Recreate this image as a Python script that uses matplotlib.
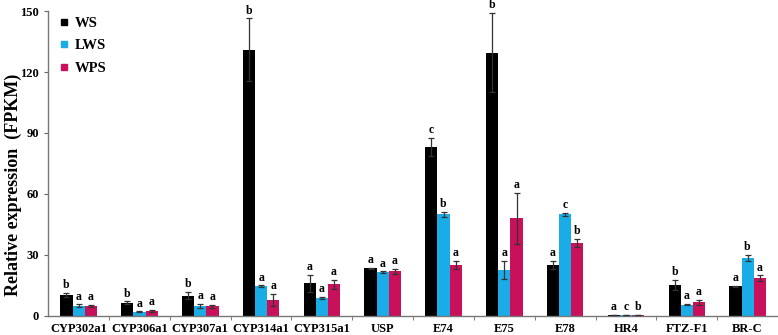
import numpy as np
import matplotlib
matplotlib.use("Agg")
import matplotlib.pyplot as plt
from matplotlib.lines import Line2D

plt.rcParams['font.family'] = ['Liberation Serif', 'DejaVu Serif']
plt.rcParams['font.weight'] = 'bold'

# Genes and values
genes = ["CYP302a1", "CYP306a1", "CYP307a1", "CYP314a1", "CYP315a1", "USP",
         "E74", "E75", "E78", "HR4", "FTZ-F1", "BR-C"]
ws = [10.5, 6.5, 10.0, 131.0, 16.0, 23.5, 83.0, 129.5, 25.0, 0.3, 15.3, 14.5]
ws_err = [1.0, 0.7, 1.8, 15.5, 4.2, 0.3, 4.5, 19.5, 2.0, 0.1, 2.5, 0.4]
lws = [5.0, 2.0, 4.8, 14.5, 9.0, 21.5, 50.0, 22.5, 50.0, 0.5, 5.5, 28.5]
lws_err = [0.7, 0.3, 1.0, 0.5, 0.5, 0.5, 1.3, 4.5, 0.7, 0.1, 0.3, 1.5]
wps = [5.0, 2.5, 4.8, 8.0, 15.5, 22.0, 25.0, 48.0, 36.0, 0.4, 6.8, 18.5]
wps_err = [0.5, 0.4, 0.8, 3.0, 2.3, 1.2, 2.0, 12.5, 2.0, 0.1, 1.2, 1.5]
ws_let = ["b", "b", "b", "b", "a", "a", "c", "b", "a", "a", "b", "a"]
lws_let = ["a", "a", "a", "a", "a", "a", "b", "a", "c", "c", "a", "b"]
wps_let = ["a", "a", "a", "a", "a", "a", "a", "a", "b", "b", "a", "a"]

series = [
    ("WS", ws, ws_err, ws_let, "black"),
    ("LWS", lws, lws_err, lws_let, "#19ACE6"),
    ("WPS", wps, wps_err, wps_let, "#C9105A"),
]

fig = plt.figure(figsize=(7.78, 3.35), dpi=100)
ax = fig.add_axes([0.062, 0.057, 0.938, 0.91])

x = np.arange(len(genes))
width = 0.2
for i, (name, vals, errs, lets, col) in enumerate(series):
    pos = x + (i - 1) * width
    ax.bar(pos, vals, width, color=col, zorder=2)
    ax.errorbar(pos, vals, yerr=errs, fmt='none', ecolor='#333333',
                elinewidth=0.9, capsize=2.5, capthick=0.9, zorder=3)
    for p, v, e, l in zip(pos, vals, errs, lets):
        ax.text(p, v + e + 0.8, l, ha='center', va='bottom',
                fontsize=8.5, fontweight='bold')

ax.set_xlim(-0.5, len(genes) - 0.5)
ax.set_ylim(0, 150)
ax.set_yticks([0, 30, 60, 90, 120, 150])
ax.set_xticks(x)
ax.set_xticklabels(genes, fontsize=9, fontweight='bold')
ax.tick_params(axis='x', length=0, pad=5)
ax.set_xticks(np.arange(0.5, len(genes) - 0.5, 1), minor=True)
ax.tick_params(axis='x', which='minor', length=3, color='#666666', direction='out')
ax.tick_params(axis='y', labelsize=9, length=3, color='#666666')
for t in ax.get_yticklabels():
    t.set_fontweight('bold')
ax.set_ylabel("Relative expression  (FPKM)", fontsize=13, fontweight='bold')
ax.yaxis.set_label_coords(-0.036, 0.43)

for s in ['top', 'right']:
    ax.spines[s].set_visible(False)
for s in ['left', 'bottom']:
    ax.spines[s].set_color('#777777')
    ax.spines[s].set_linewidth(1.0)

handles = [Line2D([], [], marker='s', linestyle='none', color=c, markersize=5)
           for _, _, _, _, c in series]
ax.legend(handles, [s[0] for s in series], loc='upper left',
          bbox_to_anchor=(-0.008, 1.025), frameon=False, handletextpad=0.1,
          handlelength=1.2, labelspacing=0.65, prop={'weight': 'bold', 'size': 10.5})

fig.savefig("out.png", dpi=100)
